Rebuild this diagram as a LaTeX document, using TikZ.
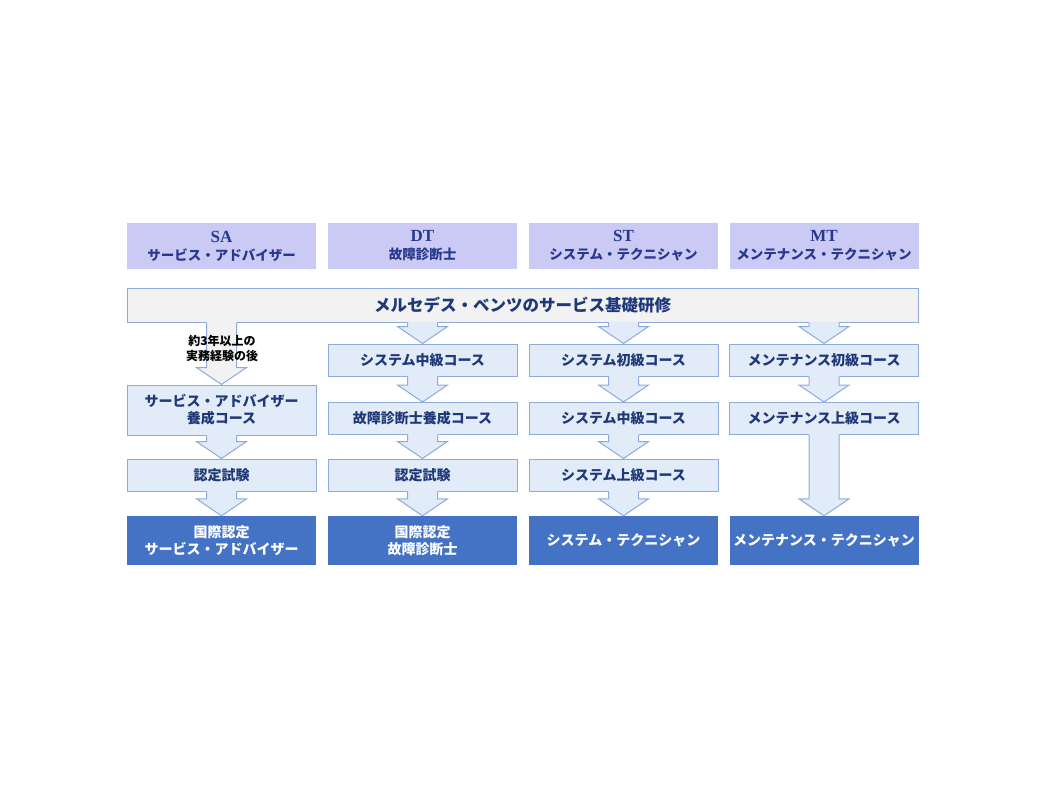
\documentclass[tikz,border=0pt]{standalone}
\usepackage{fontspec}
\setmainfont{Liberation Serif}
\newfontfamily\cjk{Noto Sans CJK JP}
\usetikzlibrary{calc}

\definecolor{headfill}{RGB}{202,202,245}
\definecolor{headtext}{RGB}{40,56,140}
\definecolor{basefill}{RGB}{242,242,242}
\definecolor{coursefill}{RGB}{226,236,248}
\definecolor{courseline}{RGB}{142,170,219}
\definecolor{coursetext}{RGB}{31,56,120}
\definecolor{goalfill}{RGB}{68,114,196}

\newcommand{\jp}{\cjk\bfseries}
\def\sw{15pt}
\def\hw{25pt}
\def\hl{17pt}
% block arrow from the bottom of one box to the top of the next
\newcommand{\flowarrow}[3][fill=coursefill]{%
\fill[#1] let \p1=(#2.south), \p2=(#3.north) in
  (\x2-\sw,\y1+1pt) -- (\x2-\sw,\y2+\hl) -- (\x2-\hw,\y2+\hl) -- (\x2,\y2)
  -- (\x2+\hw,\y2+\hl) -- (\x2+\sw,\y2+\hl) -- (\x2+\sw,\y1+1pt) -- cycle;
\draw[courseline,line width=1pt,line join=miter] let \p1=(#2.south), \p2=(#3.north) in
  (\x2-\sw,\y1) -- (\x2-\sw,\y2+\hl) -- (\x2-\hw,\y2+\hl) -- (\x2,\y2)
  -- (\x2+\hw,\y2+\hl) -- (\x2+\sw,\y2+\hl) -- (\x2+\sw,\y1);
}

\begin{document}
\begin{tikzpicture}[x=1pt,y=-1pt,
  headbox/.style={fill=headfill,minimum width=189pt,minimum height=46pt,inner sep=0pt,align=center,text=headtext,font=\fontsize{14}{18}\selectfont},
  basebox/.style={fill=basefill,draw=courseline,line width=1pt,minimum width=791pt,minimum height=34pt,inner sep=0pt,text=coursetext,font=\jp\fontsize{16.5}{18}\selectfont},
  coursebox/.style={fill=coursefill,draw=courseline,line width=1pt,minimum width=189pt,minimum height=32pt,inner sep=0pt,align=center,text=coursetext,font=\jp\fontsize{14}{17}\selectfont},
  goalbox/.style={fill=goalfill,minimum width=189pt,minimum height=49pt,inner sep=0pt,align=center,text=white,font=\jp\fontsize{14}{17}\selectfont}]
\useasboundingbox (0,0) rectangle (1046,785);

% headers
\node[headbox] (saHead) at (221.5,246) {{\bfseries\fontsize{17}{17}\selectfont SA}\\{\jp\fontsize{13.5}{16}\selectfont サービス・アドバイザー}};
\node[headbox] (dtHead) at (422.5,246) {{\bfseries\fontsize{17}{17}\selectfont DT}\\{\jp\fontsize{13.5}{16}\selectfont 故障診断士}};
\node[headbox] (stHead) at (623.5,246) {{\bfseries\fontsize{17}{17}\selectfont ST}\\{\jp\fontsize{13.5}{16}\selectfont システム・テクニシャン}};
\node[headbox] (mtHead) at (824,246) {{\bfseries\fontsize{17}{17}\selectfont MT}\\{\jp\fontsize{13.5}{16}\selectfont メンテナンス・テクニシャン}};

\node[basebox] (base) at (522.5,305) {メルセデス・ベンツのサービス基礎研修};

% courses
\node[coursebox] (dtCourse1) at (422.5,360) {システム中級コース};
\node[coursebox] (stCourse1) at (623.5,360) {システム初級コース};
\node[coursebox] (mtCourse1) at (824,360) {メンテナンス初級コース};

\node[coursebox,minimum height=50pt] (saCourse) at (221.5,410) {サービス・アドバイザー\\養成コース};
\node[coursebox] (dtCourse2) at (422.5,418.5) {故障診断士養成コース};
\node[coursebox] (stCourse2) at (623.5,418.5) {システム中級コース};
\node[coursebox] (mtCourse2) at (824,418.5) {メンテナンス上級コース};

\node[coursebox] (saExam) at (221.5,475) {認定試験};
\node[coursebox] (dtExam) at (422.5,475) {認定試験};
\node[coursebox] (stCourse3) at (623.5,475) {システム上級コース};

\node[goalbox] (saGoal) at (221.5,540.5) {国際認定\\サービス・アドバイザー};
\node[goalbox] (dtGoal) at (422.5,540.5) {国際認定\\故障診断士};
\node[goalbox] (stGoal) at (623.5,540.5) {システム・テクニシャン};
\node[goalbox] (mtGoal) at (824,540.5) {メンテナンス・テクニシャン};

% arrows
\flowarrow[fill=basefill]{base}{saCourse}
\flowarrow{base}{dtCourse1}
\flowarrow{base}{stCourse1}
\flowarrow{base}{mtCourse1}
\flowarrow{saCourse}{saExam}
\flowarrow{saExam}{saGoal}
\flowarrow{dtCourse1}{dtCourse2}
\flowarrow{dtCourse2}{dtExam}
\flowarrow{dtExam}{dtGoal}
\flowarrow{stCourse1}{stCourse2}
\flowarrow{stCourse2}{stCourse3}
\flowarrow{stCourse3}{stGoal}
\flowarrow{mtCourse1}{mtCourse2}
\flowarrow{mtCourse2}{mtGoal}

\node[align=center,font=\jp\fontsize{12}{15}\selectfont] (saNote) at (222,348.5) {約3年以上の\\実務経験の後};
\end{tikzpicture}
\end{document}
